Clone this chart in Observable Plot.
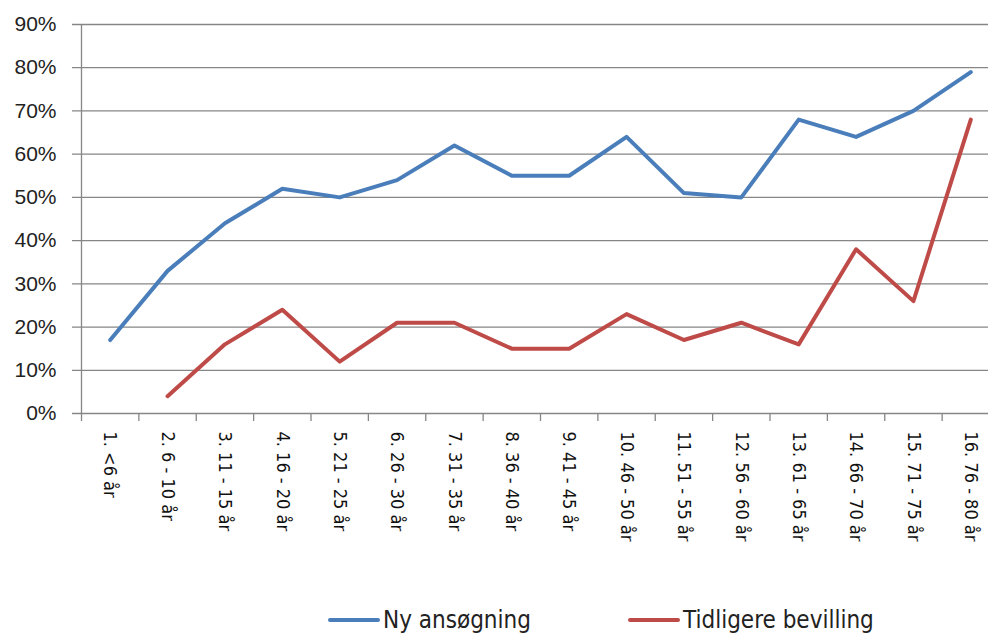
<!DOCTYPE html>
<html>
<head>
<meta charset="utf-8">
<script src="https://cdn.jsdelivr.net/npm/d3@7"></script>
<script src="https://cdn.jsdelivr.net/npm/@observablehq/plot@0.6"></script>
<style>
  body { margin: 0; background: #fff; }
  #chart svg { overflow: hidden; display: block; }
  #legend { position: relative; height: 43px; font-family: "Liberation Sans Narrow", "DejaVu Sans Condensed", "Liberation Sans", sans-serif; font-size: 24px; color: #222; }
  .item { position: absolute; top: 6px; display: flex; align-items: center; }
  .swatch { width: 52px; height: 4px; margin-right: 3px; border-radius: 2px; }
</style>
</head>
<body>
<div id="chart"></div>
<div id="legend"></div>
<script>
const categories = ["1. <6 år", "2. 6 - 10 år", "3. 11 - 15 år", "4. 16 - 20 år", "5. 21 - 25 år", "6. 26 - 30 år", "7. 31 - 35 år", "8. 36 - 40 år", "9. 41 - 45 år", "10. 46 - 50 år", "11. 51 - 55 år", "12. 56 - 60 år", "13. 61 - 65 år", "14. 66 - 70 år", "15. 71 - 75 år", "16. 76 - 80 år"];
const nyAnsogning = [17, 33, 44, 52, 50, 54, 62, 55, 55, 64, 51, 50, 68, 64, 70, 79];
const tidligereBevilling = [null, 4, 16, 24, 12, 21, 21, 15, 15, 23, 17, 21, 16, 38, 26, 68];
const seriesNames = ["Ny ansøgning", "Tidligere bevilling"];
const seriesColors = ["#4a7ebb", "#be4b48"];
const yTicks = [0, 10, 20, 30, 40, 50, 60, 70, 80, 90];

const idx = categories.map((c, i) => i + 1);
const boundaries = [0, ...idx].map(i => i + 0.5);
const rows = [];
[nyAnsogning, tidligereBevilling].forEach((vals, s) => {
  vals.forEach((v, i) => rows.push({series: seriesNames[s], x: i + 1, y: v == null ? NaN : v / 100}));
});

const font = "'Liberation Sans', Arial, sans-serif";
const chart = Plot.plot({
  width: 988,
  height: 600,
  marginTop: 24,
  marginBottom: 187,
  marginLeft: 72,
  marginRight: 0,
  style: {fontFamily: font, background: "#fff", color: "#333"},
  x: {type: "linear", domain: [0.5, categories.length + 0.5], range: [81, 999]},
  y: {domain: [0, 0.9], range: [413, 24]},
  color: {domain: seriesNames, range: seriesColors},
  marks: [
    Plot.ruleY(yTicks.map(v => v / 100), {stroke: "#868686", strokeWidth: 1.3}),
    Plot.ruleX([boundaries[0]], {y1: 0, y2: 0.9, stroke: "#868686", strokeWidth: 1.3}),
    Plot.axisX(boundaries, {tickSize: 8, tickFormat: () => "", stroke: "#868686", strokeWidth: 1.3, label: null}),
    Plot.axisX(idx, {tickSize: 0, tickPadding: 18, tickRotate: 90, textAnchor: "start", fontFamily: "'DejaVu Sans Condensed', 'DejaVu Sans', sans-serif", fontVariant: "normal", tickFormat: i => categories[i - 1].normalize("NFC"), fontSize: 18, fill: "#111", label: null}),
    Plot.axisY(yTicks.map(v => v / 100), {tickSize: 0, tickPadding: 16, tickFormat: v => Math.round(v * 100) + "%", fontSize: 21, fill: "#222", label: null}),
    Plot.line(rows, {x: "x", y: "y", z: "series", stroke: "series", strokeWidth: 4, strokeLinejoin: "round", strokeLinecap: "round"})
  ]
});
document.getElementById("chart").appendChild(chart);

const legend = document.getElementById("legend");
const lefts = [328, 628];
seriesNames.forEach((n, i) => {
  const d = document.createElement("div");
  d.className = "item";
  d.style.left = lefts[i] + "px";
  d.innerHTML = `<span class="swatch" style="background:${seriesColors[i]}"></span><span>${n}</span>`;
  legend.appendChild(d);
});
</script>
</body>
</html>
